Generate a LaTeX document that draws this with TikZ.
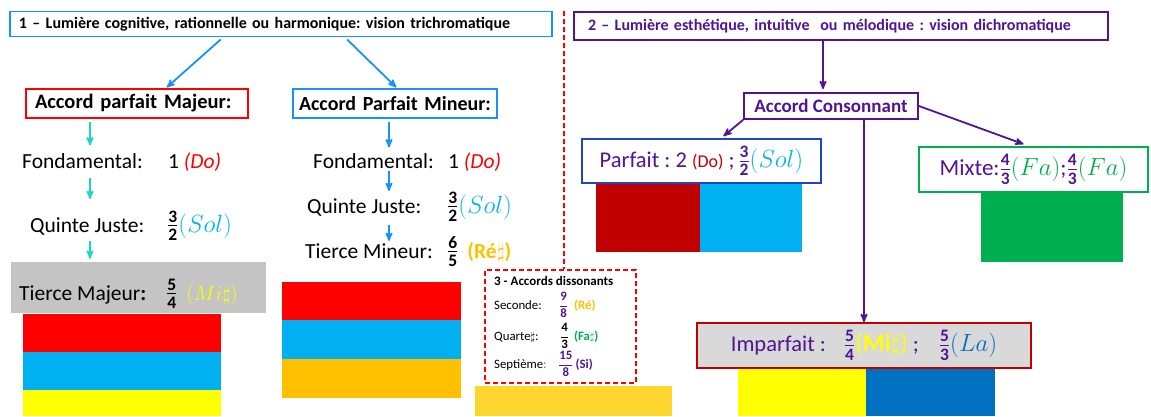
\documentclass[tikz,border=0pt]{standalone}
\usepackage{amsmath}
\usepackage{amssymb}
\usepackage{fontspec}
\setmainfont{Carlito}
\usetikzlibrary{arrows}

\definecolor{cBlue}{RGB}{25,145,250}
\definecolor{cTeal}{RGB}{25,215,200}
\definecolor{cSky}{RGB}{0,176,240}
\definecolor{cRed}{RGB}{255,0,0}
\definecolor{cDarkred}{RGB}{192,0,0}
\definecolor{cYellow}{RGB}{255,255,0}
\definecolor{cOrange}{RGB}{255,192,0}
\definecolor{cGold}{RGB}{255,214,45}
\definecolor{cPurple}{RGB}{80,20,150}
\definecolor{cNavy}{RGB}{30,70,190}
\definecolor{cGreen}{RGB}{0,176,80}
\definecolor{cLaBlue}{RGB}{0,112,192}
\definecolor{cGrayA}{RGB}{196,196,196}
\definecolor{cGrayB}{RGB}{217,217,217}

% fractions: \frb in the large lines, \frd in the small box
\newcommand{\frb}[2]{{\fontsize{25}{28}\selectfont$\frac{\mathbf{#1}}{\mathbf{#2}}$}}
\newcommand{\frd}[2]{\ensuremath{\dfrac{\mathbf{#1}}{\mathbf{#2}}}}

\tikzset{
	box_head/.style = {
		rectangle,
		draw,
		fill=white,
		line width=1.8pt,
		align=left,
		inner xsep=9pt,
		inner ysep=0pt,
		font=\bfseries\fontsize{20.5}{24}\selectfont
	},
	box_title/.style = {
		box_head,
		minimum height=25pt,
		font=\bfseries\fontsize{16}{19}\selectfont
	},
	box_note/.style = {
		rectangle,
		draw,
		fill=white,
		line width=1.8pt,
		inner sep=0pt,
		text=cPurple
	},
	box_gray/.style = {
		rectangle,
		fill=cGrayA,
		inner sep=0pt
	},
	box_dis/.style = {
		rectangle,
		draw=cRed,
		line width=1.6pt,
		dash pattern=on 5pt off 3pt,
		inner sep=0pt
	},
	lbl/.style = {
		inner sep=0pt,
		anchor=base west,
		font=\fontsize{21.5}{25}\selectfont
	},
	lbl_small/.style = {
		inner sep=0pt,
		anchor=base west,
		font=\fontsize{12.8}{15}\selectfont
	},
	arr/.style = {
		->,
		line width=1.8pt
	}
}

\begin{document}
\frenchspacing
\begin{tikzpicture}[x=1pt, y=-1pt, >=stealth']
\useasboundingbox (0,0) rectangle (1151,416);

% colour stripes
\fill [cRed] (23,314) rectangle (221,352);
\fill [cSky] (23,352) rectangle (221,390);
\fill [cYellow] (23,390) rectangle (221,416);
\fill [cRed] (282,282) rectangle (461,320);
\fill [cSky] (282,320) rectangle (461,359);
\fill [cOrange] (282,359) rectangle (461,398);
\fill [cGold] (475,386) rectangle (672,416);
\fill [cDarkred] (596,183) rectangle (700,252);
\fill [cSky] (700,183) rectangle (802,252);
\fill [cGreen] (981,192) rectangle (1123,262);
\fill [cYellow] (738,368) rectangle (866,416);
\fill [cLaBlue] (866,368) rectangle (995,416);

% 1 - vision trichromatique
\node [box_title, draw=cBlue, text width=524pt] (title_a) at (281,24) {1 – Lumière cognitive, rationnelle ou harmonique: vision trichromatique};
\node [box_head, draw=cRed, text width=204pt, minimum height=29pt] (majA) at (137,103.5) {Accord parfait Majeur:};
\node [box_head, draw=cBlue, text width=192pt, inner xsep=6pt, minimum height=29pt, font=\bfseries\fontsize{20}{24}\selectfont] (minB) at (395,103.5) {Accord Parfait Mineur:};

\coordinate (colA) at (90,0);
\coordinate (colB) at (389,0);

\node [lbl] (fondA) at (22,168) {Fondamental:};
\node [lbl] (fondA_val) at (168,168) {1 \textcolor{cRed}{\textit{(Do)}}};
\node [lbl] (qjA) at (30,232) {Quinte Juste:};
\node [lbl] (qjA_val) at (167,232) {\frb32\textcolor{cSky}{\fontsize{23}{26}\selectfont$(Sol)$}};
\node [box_gray, minimum width=255pt, minimum height=51pt] (tboxA) at (138.5,287.5) {};
\node [lbl] (tmA) at (19,300) {Tierce Majeur\textbf{:}};
\node [lbl] (tmA_val) at (166,300) {\frb54\hspace{9pt}\textcolor{cYellow}{$(Mi\sharp)$}};

\node [lbl] (fondB) at (313,168) {Fondamental:};
\node [lbl] (fondB_val) at (448,168) {1 \textcolor{cRed}{\textit{(Do)}}};
\node [lbl] (qjB) at (307,213) {Quinte Juste:};
\node [lbl] (qjB_val) at (447,213) {\frb32\textcolor{cSky}{\fontsize{23}{26}\selectfont$(Sol)$}};
\node [lbl] (tmB) at (305,258) {Tierce Mineur:};
\node [lbl] (tmB_val) at (447,258) {\frb65\hspace{9pt}\textcolor{cOrange}{\textbf{(Ré$\sharp$)}}};

\draw [arr, cBlue, shorten <=3pt, shorten >=1pt] ([xshift=-58pt]title_a.south) -- ([xshift=29pt]majA.north);
\draw [arr, cBlue, shorten <=3pt, shorten >=1pt] ([xshift=64pt]title_a.south) -- ([xshift=2pt]minB.north);

\draw [arr, cTeal, shorten <=3pt, shorten >=7.5pt] (majA.south -| colA) -- (fondA.north -| colA);
\draw [arr, cTeal, shorten <=10pt, shorten >=18pt] (fondA.south -| colA) -- (qjA.north -| colA);
\draw [arr, cTeal, shorten <=6pt, shorten >=3pt] (qjA.south -| colA) -- (tboxA.north -| colA);

\draw [arr, cBlue, shorten <=3pt, shorten >=5.5pt] (minB.south -| colB) -- (fondB.north -| colB);
\draw [arr, cBlue, shorten <=3pt, shorten >=7pt] (fondB.south -| colB) -- (qjB.north -| colB);
\draw [arr, cBlue, shorten <=9pt, shorten >=2pt] (qjB.south -| colB) -- (tmB.north -| colB);

% 3 - accords dissonants
\node [box_dis, minimum width=151pt, minimum height=113pt] (dis) at (560.5,326.5) {};
\coordinate (sep_top) at (564,11);
\draw [cRed, line width=1.6pt, dash pattern=on 5pt off 3pt] (sep_top) -- (sep_top |- dis.north);

\node [lbl_small, font=\bfseries\fontsize{13}{15}\selectfont] (dis_title) at (494,285) {3 - Accords dissonants};
\node [lbl_small] (sec) at (494,309) {Seconde:};
\node [lbl_small] (sec_val) at (559,309) {\textcolor{cPurple}{\frd98}\hspace{6pt}\textcolor{cOrange}{\textbf{(Ré)}}};
\node [lbl_small] (qua) at (494,340) {Quarte$\sharp$:};
\node [lbl_small] (qua_val) at (560,340) {\frd43\hspace{5pt}\textcolor{cGreen}{\textbf{(Fa$\sharp$)}}};
\node [lbl_small] (sep) at (494,368) {Septième\textcolor{cGreen}{:}};
\node [lbl_small] (sep_val) at (558,368) {\textcolor{cPurple}{\frd{15}8\hspace{2pt}\textbf{(Si)}}};

% 2 - vision dichromatique
\node [box_title, draw=cPurple, text=cPurple, text width=506pt, inner xsep=14pt, minimum height=28pt] (title_b) at (841,26) {2 – Lumière esthétique, intuitive~ ou mélodique : vision dichromatique};
\node [box_note, draw=cPurple, minimum width=174pt, minimum height=26pt, font=\bfseries\fontsize{19}{22}\selectfont] (cons) at (831,106) {Accord Consonnant};
\node [box_note, draw=cNavy, minimum width=239pt, minimum height=44pt, font=\fontsize{22.5}{26}\selectfont] (parf) at (701.5,161) {Parfait : 2 \textcolor{cDarkred}{\fontsize{18}{21}\selectfont(Do)} ;\,\frb32\textcolor{cSky}{\fontsize{23}{26}\selectfont$(Sol)$}};
\node [box_note, draw=cGreen, minimum width=229pt, minimum height=45pt, font=\fontsize{23}{27}\selectfont] (mix) at (1033.5,169.5) {Mixte:\frb43\textcolor{cGreen}{$(Fa)$};\frb43\textcolor{cGreen}{\fontsize{29}{32}\selectfont$(Fa)$}};
\node [box_note, draw=cDarkred, fill=cGrayB, minimum width=334pt, minimum height=45pt, font=\fontsize{22.5}{26}\selectfont] (imp) at (864,345.5) {Imparfait :\hspace{18pt}\frb54\textcolor{cYellow}{\fontsize{25}{28}\selectfont(\textbf{Mi}$\sharp$)} ;\hspace{20pt}\frb53\textcolor{cLaBlue}{\fontsize{24}{27}\selectfont$(La)$}};

\coordinate (cons_in) at ([xshift=-8pt]cons.north);
\draw [arr, cPurple, shorten >=3pt] (title_b.south -| cons_in) -- (cons_in);
\draw [arr, cPurple] (cons.south west) -- ([xshift=22pt,yshift=2pt]parf.north);
\draw [arr, cPurple] (cons.east) -- ([xshift=-10pt,yshift=2pt]mix.north);
\draw [arr, cPurple] (imp.north |- cons.south) -- (imp.north);
\end{tikzpicture}
\end{document}
